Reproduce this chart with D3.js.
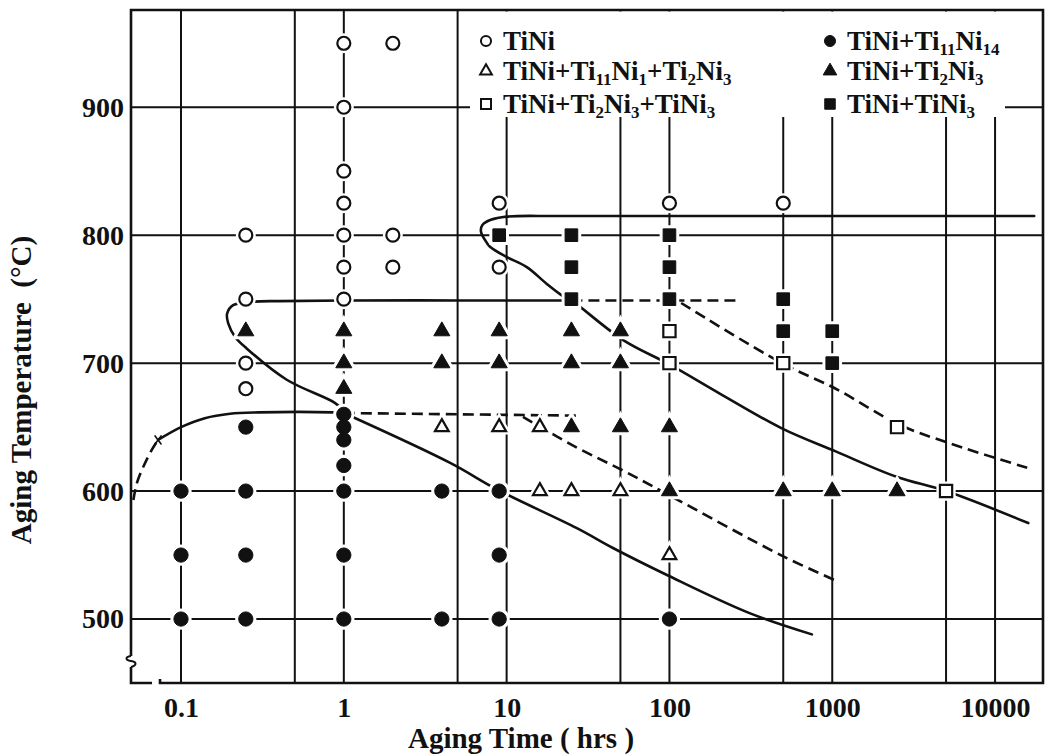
<!DOCTYPE html>
<html>
<head>
<meta charset="utf-8">
<script src="https://cdn.jsdelivr.net/npm/d3@7"></script>
<style>
  body { margin: 0; background: #fff; }
  svg { display: block; font-family: "Liberation Serif", "Times New Roman", serif; font-weight: bold; }
</style>
</head>
<body>
<svg id="chart" width="1052" height="756"></svg>
<script>
// ---- Axis ticks and grid ----
const xTickValues = [0.1, 1, 10, 100, 1000, 10000];
const xTickLabels = ["0.1", "1", "10", "100", "1000", "10000"];
const xGridValues = [0.1, 0.5, 1, 5, 10, 50, 100, 500, 1000, 5000, 10000];
const yTickValues = [500, 600, 700, 800, 900];

// ---- Observed phases: [aging time (h), aging temperature (°C)] ----
const tiNi = [[1, 950], [2, 950], [1, 900], [1, 850], [1, 825], [9, 825], [100, 825], [500, 825],
  [0.25, 800], [1, 800], [2, 800], [1, 775], [2, 775], [9, 775], [0.25, 750], [1, 750],
  [0.25, 700], [0.25, 680]];
const tiNiTi11Ni14 = [[0.25, 650], [1, 660], [1, 650], [1, 640], [1, 620],
  [0.1, 600], [0.25, 600], [1, 600], [4, 600], [9, 600],
  [0.1, 550], [0.25, 550], [1, 550], [9, 550],
  [0.1, 500], [0.25, 500], [1, 500], [4, 500], [9, 500], [100, 500]];
const tiNiTi11Ni1Ti2Ni3 = [[4, 650], [9, 650], [16, 650], [16, 600], [25, 600], [50, 600], [100, 550]];
const tiNiTi2Ni3 = [[0.25, 725], [1, 725], [4, 725], [9, 725], [25, 725], [50, 725],
  [1, 700], [4, 700], [9, 700], [25, 700], [50, 700], [1, 680],
  [25, 650], [50, 650], [100, 650], [100, 600], [500, 600], [1000, 600], [2500, 600]];
const tiNiTi2Ni3TiNi3 = [[100, 725], [100, 700], [500, 700], [2500, 650], [5000, 600]];
const tiNiTiNi3 = [[9, 800], [25, 800], [100, 800], [25, 775], [100, 775], [25, 750], [100, 750],
  [500, 750], [500, 725], [1000, 725], [1000, 700]];

// ---- Phase boundaries ----
const boundaryUpper = [[17400, 815], [1000, 815], [100, 815], [20, 815], [10, 814.5], [8, 812],
  [7.1, 808], [6.95, 803], [7.3, 797], [7.9, 791], [10, 783], [13.3, 775], [18, 761], [21.8, 753],
  [25, 749], [52, 718], [100, 699], [205, 676], [490, 649], [1050, 631], [2500, 611], [5000, 600], [16000, 575]];
const boundary750 = [[25, 749], [5, 749], [1, 749], [0.4, 748.5], [0.278, 748], [0.209, 745.3],
  [0.192, 738.8], [0.195, 731], [0.215, 720.5], [0.253, 711.5], [0.446, 687], [0.88, 669], [1, 663]];
const boundaryLower = [[1, 661], [4.5, 622], [8.8, 601], [27, 571], [45, 555.5], [98, 534], [305, 505], [750, 488]];
const boundaryLeftDashed = [[0.051, 593], [0.0535, 606], [0.0587, 619], [0.066, 632], [0.0723, 640]];
const boundaryLeftSolid = [[0.0723, 640], [0.1, 650], [0.14, 657], [0.2, 660.5], [0.3, 661.5], [0.86, 661.5], [1, 661]];
const dashed660 = [[1, 661], [27, 659]];
const dashedMid = [[12.6, 658], [27, 634], [52, 616], [95.6, 598], [500, 549], [1100, 529]];
const dashed750 = [[25, 749], [260, 749]];
const dashedRight = [[118, 747], [490, 700], [1050, 680], [2570, 652], [5360, 637], [16900, 617]];
const leftMark = [0.0723, 640];

// ---- Layout ----
const svg = d3.select("#chart");
const plot = { left: 131, right: 1043, top: 10, bottom: 683 };
const ink = "#111";

const x = d3.scaleLog().domain([0.0493, 19700]).range([plot.left, plot.right]);
const y = d3.scaleLinear().domain([450, 976]).range([plot.bottom, plot.top]);

// Grid
const grid = svg.append("g").attr("stroke", ink).attr("stroke-width", 2);
grid.selectAll("line.v").data(xGridValues).join("line")
  .attr("x1", d => x(d)).attr("x2", d => x(d))
  .attr("y1", plot.top).attr("y2", plot.bottom);
grid.selectAll("line.h").data(yTickValues).join("line")
  .attr("x1", plot.left).attr("x2", plot.right)
  .attr("y1", d => y(d)).attr("y2", d => y(d));

// Legend panel clears the grid behind it
const legendBox = { x0: 470, x1: 1005, y0: 11.5, y1: 117 };
svg.append("rect")
  .attr("x", legendBox.x0).attr("y", legendBox.y0)
  .attr("width", legendBox.x1 - legendBox.x0).attr("height", legendBox.y1 - legendBox.y0)
  .attr("fill", "#fff");

// Frame with axis breaks at the lower-left corner
const frame = svg.append("g").attr("fill", "none").attr("stroke", ink).attr("stroke-width", 2.6);
frame.append("path").attr("d",
  `M${plot.left},656 V${plot.top} H${plot.right} V${plot.bottom} H160 v-4`);
frame.append("path").attr("stroke-width", 2)
  .attr("d", `M${plot.left},656 c-6,1 -6,4 0,5 c6,1 6,4 0,6`);
frame.append("path").attr("d", `M${plot.left},667 V${plot.bottom} H152`);

// Boundaries
const line = d3.line().x(d => x(d[0])).y(d => y(d[1])).curve(d3.curveCatmullRom.alpha(0.5));
const curves = svg.append("g").attr("fill", "none").attr("stroke", ink)
  .attr("stroke-width", 2.6).attr("stroke-linecap", "round");
[boundaryUpper, boundary750, boundaryLower, boundaryLeftSolid].forEach(c =>
  curves.append("path").attr("d", line(c)));
[boundaryLeftDashed, dashed660, dashedMid, dashed750, dashedRight].forEach(c =>
  curves.append("path").attr("d", line(c)).attr("stroke-dasharray", "11,6").attr("stroke-linecap", "butt"));
curves.append("path").attr("stroke-width", 1.6)
  .attr("d", `M${x(leftMark[0]) - 3},${y(leftMark[1]) - 4} l6,8 M${x(leftMark[0]) + 3},${y(leftMark[1]) - 4} l-6,8`);

// Markers
const series = [
  { label: "TiNi", pts: tiNi, shape: d3.symbolCircle, filled: false, size: 133, lsize: 80 },
  { label: "TiNi+Ti11Ni14", pts: tiNiTi11Ni14, shape: d3.symbolCircle, filled: true, size: 160, lsize: 95 },
  { label: "TiNi+Ti11Ni1+Ti2Ni3", pts: tiNiTi11Ni1Ti2Ni3, shape: d3.symbolTriangle, filled: false, size: 82, lsize: 60 },
  { label: "TiNi+Ti2Ni3", pts: tiNiTi2Ni3, shape: d3.symbolTriangle, filled: true, size: 112, lsize: 80 },
  { label: "TiNi+Ti2Ni3+TiNi3", pts: tiNiTi2Ni3TiNi3, shape: d3.symbolSquare, filled: false, size: 150, lsize: 100 },
  { label: "TiNi+TiNi3", pts: tiNiTiNi3, shape: d3.symbolSquare, filled: true, size: 160, lsize: 110 }
];
const halo = svg.append("g");
const marks = svg.append("g");
series.forEach(s => {
  const sym = d3.symbol().type(s.shape).size(s.size);
  halo.selectAll(null).data(s.pts).join("path")
    .attr("d", sym).attr("transform", d => `translate(${x(d[0])},${y(d[1])})`)
    .attr("fill", "#fff").attr("stroke", "#fff").attr("stroke-width", 7);
  marks.selectAll(null).data(s.pts).join("path")
    .attr("d", sym).attr("transform", d => `translate(${x(d[0])},${y(d[1])})`)
    .attr("fill", s.filled ? ink : "#fff").attr("stroke", ink).attr("stroke-width", s.filled ? 1 : 2.2);
});

// Axes
const xAxis = svg.append("g").attr("transform", `translate(0,${plot.bottom})`)
  .call(d3.axisBottom(x).tickValues(xTickValues)
    .tickFormat((d, i) => xTickLabels[i]).tickSize(0).tickPadding(14));
const yAxis = svg.append("g").attr("transform", `translate(${plot.left},0)`)
  .call(d3.axisLeft(y).tickValues(yTickValues).tickSize(0).tickPadding(7));
[xAxis, yAxis].forEach(a => {
  a.select(".domain").remove();
  a.selectAll("text").attr("font-family", "Liberation Serif, serif").attr("font-weight", "bold")
    .attr("font-size", 28).attr("fill", ink);
});

svg.append("text").attr("x", 521).attr("y", 748).attr("text-anchor", "middle")
  .attr("font-size", 29).attr("fill", ink).text("Aging Time ( hrs )");
svg.append("text").attr("transform", "translate(31,390) rotate(-90)").attr("text-anchor", "middle")
  .attr("font-size", 29).attr("fill", ink).attr("xml:space", "preserve").text("Aging Temperature  (°C)");

// Legend: digits in formulas are set as subscripts
const legendCols = [486, 830];
const legendRows = [41, 71, 104];
const legend = svg.append("g");
series.forEach((s, i) => {
  const cx = legendCols[i % 2], cy = legendRows[Math.floor(i / 2)];
  legend.append("path").attr("d", d3.symbol().type(s.shape).size(s.lsize))
    .attr("transform", `translate(${cx},${cy})`)
    .attr("fill", s.filled ? ink : "#fff").attr("stroke", ink).attr("stroke-width", s.filled ? 1 : 2);
  const t = legend.append("text").attr("x", cx + 17).attr("y", cy + 9)
    .attr("font-size", 27).attr("fill", ink);
  let shift = 0;
  s.label.split(/(\d+)/).filter(p => p.length).forEach(part => {
    const isSub = /^\d+$/.test(part);
    const target = isSub ? 5 : 0;
    const ts = t.append("tspan").attr("dy", target - shift).text(part);
    if (isSub) ts.attr("font-size", 17);
    shift = target;
  });
});
</script>
</body>
</html>
